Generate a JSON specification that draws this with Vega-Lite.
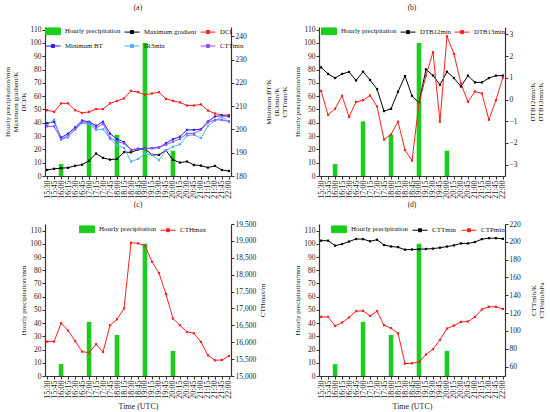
{
"$schema": "https://vega.github.io/schema/vega-lite/v6.json",
"padding": {"left": 3, "top": 3, "right": 0, "bottom": 0},
"datasets": {
"p": [
{"t":"16:00","p":9,"s":"Hourly precipitation"},
{"t":"17:00","p":41,"s":"Hourly precipitation"},
{"t":"18:00","p":31,"s":"Hourly precipitation"},
{"t":"19:00","p":100,"s":"Hourly precipitation"},
{"t":"20:00","p":19,"s":"Hourly precipitation"}
],
"d": [
{"t":"15:30","Maximum gradient":4.6,"DCI":49.5,"Minimum BT":202.7,"IR3min":201.9,"CTTmin":201.3,"DTB12min":1.48,"DTB13min":0.4,"CTHmax":16019,"CTPmin":115.8},
{"t":"15:45","Maximum gradient":5.4,"DCI":48.2,"Minimum BT":203.3,"IR3min":204.2,"CTTmin":201.3,"DTB12min":1.18,"DTB13min":-0.71,"CTHmax":16019,"CTPmin":115.8},
{"t":"16:00","Maximum gradient":5.9,"DCI":54.6,"Minimum BT":196.5,"IR3min":195.8,"CTTmin":195.7,"DTB12min":0.99,"DTB13min":-0.42,"CTHmax":16563,"CTPmin":105.7},
{"t":"16:15","Maximum gradient":6.2,"DCI":54.6,"Minimum BT":198.2,"IR3min":196.5,"CTTmin":197.5,"DTB12min":1.18,"DTB13min":0.17,"CTHmax":16345,"CTPmin":109.5},
{"t":"16:30","Maximum gradient":7.7,"DCI":49.5,"Minimum BT":200.9,"IR3min":199.8,"CTTmin":200.3,"DTB12min":1.27,"DTB13min":-0.8,"CTHmax":16038,"CTPmin":115.1},
{"t":"16:45","Maximum gradient":8.5,"DCI":47.4,"Minimum BT":203.8,"IR3min":202.7,"CTTmin":203.2,"DTB12min":0.88,"DTB13min":-0.11,"CTHmax":15722,"CTPmin":122.2},
{"t":"17:00","Maximum gradient":11.5,"DCI":48.2,"Minimum BT":203.3,"IR3min":202.3,"CTTmin":203.0,"DTB12min":1.28,"DTB13min":-0.03,"CTHmax":15692,"CTPmin":122.6},
{"t":"17:15","Maximum gradient":16.9,"DCI":50.3,"Minimum BT":201.6,"IR3min":199.8,"CTTmin":200.6,"DTB12min":0.9,"DTB13min":0.19,"CTHmax":15940,"CTPmin":117},
{"t":"17:30","Maximum gradient":13.6,"DCI":50.3,"Minimum BT":203.3,"IR3min":200.1,"CTTmin":202.4,"DTB12min":0.48,"DTB13min":-0.32,"CTHmax":15712,"CTPmin":122.2},
{"t":"17:45","Maximum gradient":12.3,"DCI":54.6,"Minimum BT":198.2,"IR3min":196.0,"CTTmin":196.4,"DTB12min":-0.53,"DTB13min":-1.84,"CTHmax":16503,"CTPmin":106.5},
{"t":"18:00","Maximum gradient":12.8,"DCI":56.4,"Minimum BT":195.8,"IR3min":193.1,"CTTmin":194.8,"DTB12min":-0.43,"DTB13min":-1.61,"CTHmax":16681,"CTPmin":103.1},
{"t":"18:15","Maximum gradient":17.9,"DCI":58.3,"Minimum BT":194.6,"IR3min":192.1,"CTTmin":194.0,"DTB12min":0.36,"DTB13min":-1.02,"CTHmax":16998,"CTPmin":97.5},
{"t":"18:30","Maximum gradient":17.8,"DCI":64,"Minimum BT":191.2,"IR3min":186.2,"CTTmin":191.2,"DTB12min":1.08,"DTB13min":-2.32,"CTHmax":18946,"CTPmin":63.4},
{"t":"18:45","Maximum gradient":19.7,"DCI":63,"Minimum BT":191.7,"IR3min":187.3,"CTTmin":191.4,"DTB12min":0.17,"DTB13min":-2.81,"CTHmax":18926,"CTPmin":63.8},
{"t":"19:00","Maximum gradient":20.5,"DCI":61,"Minimum BT":191.9,"IR3min":189.6,"CTTmin":191.7,"DTB12min":-0.15,"DTB13min":-0.17,"CTHmax":18857,"CTPmin":65.3},
{"t":"19:15","Maximum gradient":15.9,"DCI":62,"Minimum BT":191.9,"IR3min":189.0,"CTTmin":192.0,"DTB12min":1.39,"DTB13min":1.1,"CTHmax":18382,"CTPmin":73.5},
{"t":"19:30","Maximum gradient":15.9,"DCI":63,"Minimum BT":192.2,"IR3min":186.8,"CTTmin":192.4,"DTB12min":1.11,"DTB13min":2.18,"CTHmax":18046,"CTPmin":79.5},
{"t":"19:45","Maximum gradient":19.2,"DCI":58,"Minimum BT":194.1,"IR3min":190.9,"CTTmin":193.4,"DTB12min":0.68,"DTB13min":-1.02,"CTHmax":17423,"CTPmin":90},
{"t":"20:00","Maximum gradient":12.1,"DCI":56.5,"Minimum BT":195.8,"IR3min":192.6,"CTTmin":194.7,"DTB12min":1.28,"DTB13min":2.91,"CTHmax":16701,"CTPmin":102.7},
{"t":"20:15","Maximum gradient":10.1,"DCI":55.3,"Minimum BT":196.9,"IR3min":193.6,"CTTmin":196.0,"DTB12min":0.99,"DTB13min":2.1,"CTHmax":16503,"CTPmin":106.1},
{"t":"20:30","Maximum gradient":10.9,"DCI":53,"Minimum BT":199.8,"IR3min":197.3,"CTTmin":198.2,"DTB12min":0.6,"DTB13min":0.74,"CTHmax":16305,"CTPmin":110.2},
{"t":"20:45","Maximum gradient":8.3,"DCI":53,"Minimum BT":199.8,"IR3min":197.7,"CTTmin":198.2,"DTB12min":1.1,"DTB13min":-0.11,"CTHmax":16266,"CTPmin":110.6},
{"t":"21:00","Maximum gradient":7.8,"DCI":53.8,"Minimum BT":200.1,"IR3min":196.3,"CTTmin":199.8,"DTB12min":0.79,"DTB13min":0.37,"CTHmax":16009,"CTPmin":115.8},
{"t":"21:15","Maximum gradient":6.3,"DCI":49.2,"Minimum BT":203.4,"IR3min":201.5,"CTTmin":203.0,"DTB12min":0.79,"DTB13min":0.28,"CTHmax":15613,"CTPmin":124.1},
{"t":"21:30","Maximum gradient":7.6,"DCI":47,"Minimum BT":205.6,"IR3min":203.8,"CTTmin":204.1,"DTB12min":0.99,"DTB13min":-0.93,"CTHmax":15465,"CTPmin":127.1},
{"t":"21:45","Maximum gradient":4.5,"DCI":45.8,"Minimum BT":205.9,"IR3min":205.3,"CTTmin":204.1,"DTB12min":1.1,"DTB13min":-0.03,"CTHmax":15475,"CTPmin":127.1},
{"t":"22:00","Maximum gradient":3.8,"DCI":45.8,"Minimum BT":205.6,"IR3min":203.4,"CTTmin":203.4,"DTB12min":1.1,"DTB13min":1.02,"CTHmax":15593,"CTPmin":124.8}
]
},
"columns": 2,
"bounds": "flush",
"spacing": {"row": 48, "column": 88},
"resolve": {"scale": {"color": "independent", "x": "independent", "y": "independent"}},
"concat": [
{
"width": 186, "height": 149,
"title": {"text": "(a)"},
"layer": [
{"layer": [
{"data": {"name": "p"}, "mark": {"type": "bar", "width": 4.6},
"encoding": {
"x": {"field": "t", "type": "ordinal", "scale": {"type": "point", "padding": 0.3}, "axis": {"labelAngle": 270, "title": null, "labelOverlap": false}},
"y": {"field": "p", "type": "quantitative", "scale": {"domain": [0, 112], "nice": false}, "axis": {"orient": "left", "values": [0,10,20,30,40,50,60,70,80,90,100,110], "title": ["Hourly precipitation/mm", "Maximum gradient/K", "DCI/K"]}},
"color": {"field": "s", "type": "nominal", "scale": {"domain": ["Hourly precipitation","Maximum gradient","DCI","Minimum BT","IR3min","CTTmin"], "range": ["#1ecc1e","#000000","#ff1f1f","#1f1fff","#4db3ff","#9a4dff"]},
"legend": {"orient": "none", "legendX": 0, "legendY": -4, "direction": "horizontal", "columns": 3, "title": null, "symbolSize": 225, "columnPadding": 1, "labelFontSize": 6.8,
"encode": {"symbols": {"update": {
"shape": {"signal": "datum.value === 'Hourly precipitation' ? 'M-1,-0.45H1V0.45H-1Z' : 'M-1,0H1M-0.2,-0.2H0.2V0.2H-0.2Z'"},
"size": {"value": 225},
"fill": {"signal": "datum.value === 'Hourly precipitation' ? '#1ecc1e' : datum.value === 'Maximum gradient' ? '#000000' : datum.value === 'DCI' ? '#ff1f1f' : datum.value === 'Minimum BT' ? '#1f1fff' : datum.value === 'IR3min' ? '#4db3ff' : '#9a4dff'"},
"stroke": {"signal": "datum.value === 'Hourly precipitation' ? '#1ecc1e' : datum.value === 'Maximum gradient' ? '#000000' : datum.value === 'DCI' ? '#ff1f1f' : datum.value === 'Minimum BT' ? '#1f1fff' : datum.value === 'IR3min' ? '#4db3ff' : '#9a4dff'"},
"strokeWidth": {"value": 1}, "opacity": {"value": 1}}}}}}
}},
{"data": {"name": "d"}, "transform": [{"fold": ["Maximum gradient", "DCI"], "as": ["s", "v"]}],
"mark": {"type": "line", "strokeWidth": 1, "point": {"shape": "square", "size": 5, "filled": true}},
"encoding": {
"x": {"field": "t", "type": "ordinal", "scale": {"type": "point", "padding": 0.3}, "axis": {"labelAngle": 270, "title": null, "labelOverlap": false}},
"y": {"field": "v", "type": "quantitative", "scale": {"domain": [0, 112], "nice": false}, "axis": {"orient": "left", "values": [0,10,20,30,40,50,60,70,80,90,100,110], "title": ["Hourly precipitation/mm", "Maximum gradient/K", "DCI/K"]}},
"color": {"field": "s", "type": "nominal", "scale": {"domain": ["Hourly precipitation","Maximum gradient","DCI","Minimum BT","IR3min","CTTmin"], "range": ["#1ecc1e","#000000","#ff1f1f","#1f1fff","#4db3ff","#9a4dff"]}}
}}
]},
{"data": {"name": "d"}, "transform": [{"fold": ["Minimum BT", "IR3min", "CTTmin"], "as": ["s", "v"]}],
"mark": {"type": "line", "strokeWidth": 1, "point": {"shape": "square", "size": 5, "filled": true}},
"encoding": {
"x": {"field": "t", "type": "ordinal", "scale": {"type": "point", "padding": 0.3}, "axis": {"labelAngle": 270, "title": null, "labelOverlap": false}},
"y": {"field": "v", "type": "quantitative", "scale": {"domain": [180, 244], "nice": false}, "axis": {"orient": "right", "values": [180,190,200,210,220,230,240], "title": ["Minimum BT/K", "IR3min/K", "CTTmin/K"], "titleAngle": 270, "titleBaseline": "top", "titlePadding": 2}},
"color": {"field": "s", "type": "nominal", "scale": {"domain": ["Hourly precipitation","Maximum gradient","DCI","Minimum BT","IR3min","CTTmin"], "range": ["#1ecc1e","#000000","#ff1f1f","#1f1fff","#4db3ff","#9a4dff"]}}
}}
],
"resolve": {"scale": {"y": "independent"}}
},
{
"width": 186, "height": 149,
"title": {"text": "(b)"},
"layer": [
{"data": {"name": "p"}, "mark": {"type": "bar", "width": 4.6},
"encoding": {
"x": {"field": "t", "type": "ordinal", "scale": {"type": "point", "padding": 0.3}, "axis": {"labelAngle": 270, "title": null, "labelOverlap": false}},
"y": {"field": "p", "type": "quantitative", "scale": {"domain": [0, 112], "nice": false}, "axis": {"orient": "left", "values": [0,10,20,30,40,50,60,70,80,90,100,110], "title": "Hourly precipitation/mm"}},
"color": {"field": "s", "type": "nominal", "scale": {"domain": ["Hourly precipitation","DTB12min","DTB13min"], "range": ["#1ecc1e","#000000","#ff1f1f"]},
"legend": {"orient": "none", "legendX": 2, "legendY": -4, "direction": "horizontal", "columns": 3, "title": null, "symbolSize": 225, "columnPadding": 1, "labelFontSize": 6.8,
"encode": {"symbols": {"update": {
"shape": {"signal": "datum.value === 'Hourly precipitation' ? 'M-1,-0.45H1V0.45H-1Z' : 'M-1,0H1M-0.2,-0.2H0.2V0.2H-0.2Z'"},
"size": {"value": 225},
"fill": {"signal": "datum.value === 'Hourly precipitation' ? '#1ecc1e' : datum.value === 'DTB12min' ? '#000000' : '#ff1f1f'"},
"stroke": {"signal": "datum.value === 'Hourly precipitation' ? '#1ecc1e' : datum.value === 'DTB12min' ? '#000000' : '#ff1f1f'"},
"strokeWidth": {"value": 1}, "opacity": {"value": 1}}}}}}
}},
{"data": {"name": "d"}, "transform": [{"fold": ["DTB12min", "DTB13min"], "as": ["s", "v"]}],
"mark": {"type": "line", "strokeWidth": 1, "point": {"shape": "square", "size": 5, "filled": true}},
"encoding": {
"x": {"field": "t", "type": "ordinal", "scale": {"type": "point", "padding": 0.3}, "axis": {"labelAngle": 270, "title": null, "labelOverlap": false}},
"y": {"field": "v", "type": "quantitative", "scale": {"domain": [-3.52, 3.34], "nice": false}, "axis": {"orient": "right", "values": [-3,-2,-1,0,1,2,3], "title": ["DTB12min/K", "DTB13min/K"], "titleAngle": 270, "titleBaseline": "top", "titlePadding": 4}},
"color": {"field": "s", "type": "nominal", "scale": {"domain": ["Hourly precipitation","DTB12min","DTB13min"], "range": ["#1ecc1e","#000000","#ff1f1f"]}}
}}
],
"resolve": {"scale": {"y": "independent"}}
},
{
"width": 186, "height": 152,
"title": {"text": "(c)"},
"layer": [
{"data": {"name": "p"}, "mark": {"type": "bar", "width": 4.6},
"encoding": {
"x": {"field": "t", "type": "ordinal", "scale": {"type": "point", "padding": 0.3}, "axis": {"labelAngle": 270, "title": "Time (UTC)", "labelOverlap": false}},
"y": {"field": "p", "type": "quantitative", "scale": {"domain": [0, 115], "nice": false}, "axis": {"orient": "left", "values": [0,10,20,30,40,50,60,70,80,90,100,110], "title": "Hourly precipitation/mm"}},
"color": {"field": "s", "type": "nominal", "scale": {"domain": ["Hourly precipitation","CTHmax"], "range": ["#1ecc1e","#ff1f1f"]},
"legend": {"orient": "none", "legendX": 34, "legendY": -3, "direction": "horizontal", "columns": 3, "title": null, "symbolSize": 225, "columnPadding": 2,
"encode": {"symbols": {"update": {
"shape": {"signal": "datum.value === 'Hourly precipitation' ? 'M-1,-0.45H1V0.45H-1Z' : 'M-1,0H1M-0.2,-0.2H0.2V0.2H-0.2Z'"},
"size": {"value": 225},
"fill": {"signal": "datum.value === 'Hourly precipitation' ? '#1ecc1e' : '#ff1f1f'"},
"stroke": {"signal": "datum.value === 'Hourly precipitation' ? '#1ecc1e' : '#ff1f1f'"},
"strokeWidth": {"value": 1}, "opacity": {"value": 1}}}}}}
}},
{"data": {"name": "d"}, "transform": [{"fold": ["CTHmax"], "as": ["s", "v"]}],
"mark": {"type": "line", "strokeWidth": 1, "point": {"shape": "square", "size": 5, "filled": true}},
"encoding": {
"x": {"field": "t", "type": "ordinal", "scale": {"type": "point", "padding": 0.3}, "axis": {"labelAngle": 270, "title": "Time (UTC)", "labelOverlap": false}},
"y": {"field": "v", "type": "quantitative", "scale": {"domain": [15000, 19500], "nice": false}, "axis": {"orient": "right", "values": [15000,15500,16000,16500,17000,17500,18000,18500,19000,19500], "labelExpr": "format(datum.value, ',')", "title": "CTHmax/m", "titleAngle": 270, "titleBaseline": "top", "titlePadding": 3}},
"color": {"field": "s", "type": "nominal", "scale": {"domain": ["Hourly precipitation","CTHmax"], "range": ["#1ecc1e","#ff1f1f"]}}
}}
],
"resolve": {"scale": {"y": "independent"}}
},
{
"width": 186, "height": 152,
"title": {"text": "(d)"},
"layer": [
{"data": {"name": "p"}, "mark": {"type": "bar", "width": 4.6},
"encoding": {
"x": {"field": "t", "type": "ordinal", "scale": {"type": "point", "padding": 0.3}, "axis": {"labelAngle": 270, "title": "Time (UTC)", "labelOverlap": false}},
"y": {"field": "p", "type": "quantitative", "scale": {"domain": [0, 115], "nice": false}, "axis": {"orient": "left", "values": [0,10,20,30,40,50,60,70,80,90,100,110], "title": "Hourly precipitation/mm"}},
"color": {"field": "s", "type": "nominal", "scale": {"domain": ["Hourly precipitation","CTTmin","CTPmin"], "range": ["#1ecc1e","#000000","#ff1f1f"]},
"legend": {"orient": "none", "legendX": 12, "legendY": -3, "direction": "horizontal", "columns": 3, "title": null, "symbolSize": 225, "columnPadding": 2,
"encode": {"symbols": {"update": {
"shape": {"signal": "datum.value === 'Hourly precipitation' ? 'M-1,-0.45H1V0.45H-1Z' : 'M-1,0H1M-0.2,-0.2H0.2V0.2H-0.2Z'"},
"size": {"value": 225},
"fill": {"signal": "datum.value === 'Hourly precipitation' ? '#1ecc1e' : datum.value === 'CTTmin' ? '#000000' : '#ff1f1f'"},
"stroke": {"signal": "datum.value === 'Hourly precipitation' ? '#1ecc1e' : datum.value === 'CTTmin' ? '#000000' : '#ff1f1f'"},
"strokeWidth": {"value": 1}, "opacity": {"value": 1}}}}}}
}},
{"data": {"name": "d"}, "transform": [{"fold": ["CTTmin", "CTPmin"], "as": ["s", "v"]}],
"mark": {"type": "line", "strokeWidth": 1, "point": {"shape": "square", "size": 5, "filled": true}},
"encoding": {
"x": {"field": "t", "type": "ordinal", "scale": {"type": "point", "padding": 0.3}, "axis": {"labelAngle": 270, "title": "Time (UTC)", "labelOverlap": false}},
"y": {"field": "v", "type": "quantitative", "scale": {"domain": [49.5, 220], "nice": false}, "axis": {"orient": "right", "values": [60,80,100,120,140,160,180,200,220], "title": ["CTTmin/K", "CTPmin/hPa"], "titleAngle": 270, "titleBaseline": "top", "titlePadding": 1}},
"color": {"field": "s", "type": "nominal", "scale": {"domain": ["Hourly precipitation","CTTmin","CTPmin"], "range": ["#1ecc1e","#000000","#ff1f1f"]}}
}}
],
"resolve": {"scale": {"y": "independent"}}
}
],
"config": {
"font": "Liberation Serif",
"view": {"stroke": null},
"title": {"font": "Liberation Serif", "fontSize": 7.5, "fontWeight": "normal", "offset": 12, "color": "#222"},
"axis": {"labelFont": "Liberation Serif", "titleFont": "Liberation Serif", "labelFontSize": 7.5, "titleFontSize": 7, "titleFontWeight": "normal", "titleLineHeight": 8, "titlePadding": 3, "labelPadding": 1, "tickSize": 3, "grid": false, "domainColor": "#333", "tickColor": "#333", "labelColor": "#222", "titleColor": "#222", "domainWidth": 1.2},
"axisX": {"titleFontSize": 8, "titlePadding": 4, "labelFontSize": 8},
"legend": {"labelFont": "Liberation Serif", "labelFontSize": 7, "labelColor": "#111", "symbolSize": 225, "labelOffset": 4, "columnPadding": 1, "rowPadding": 1, "padding": 0}
}
}
